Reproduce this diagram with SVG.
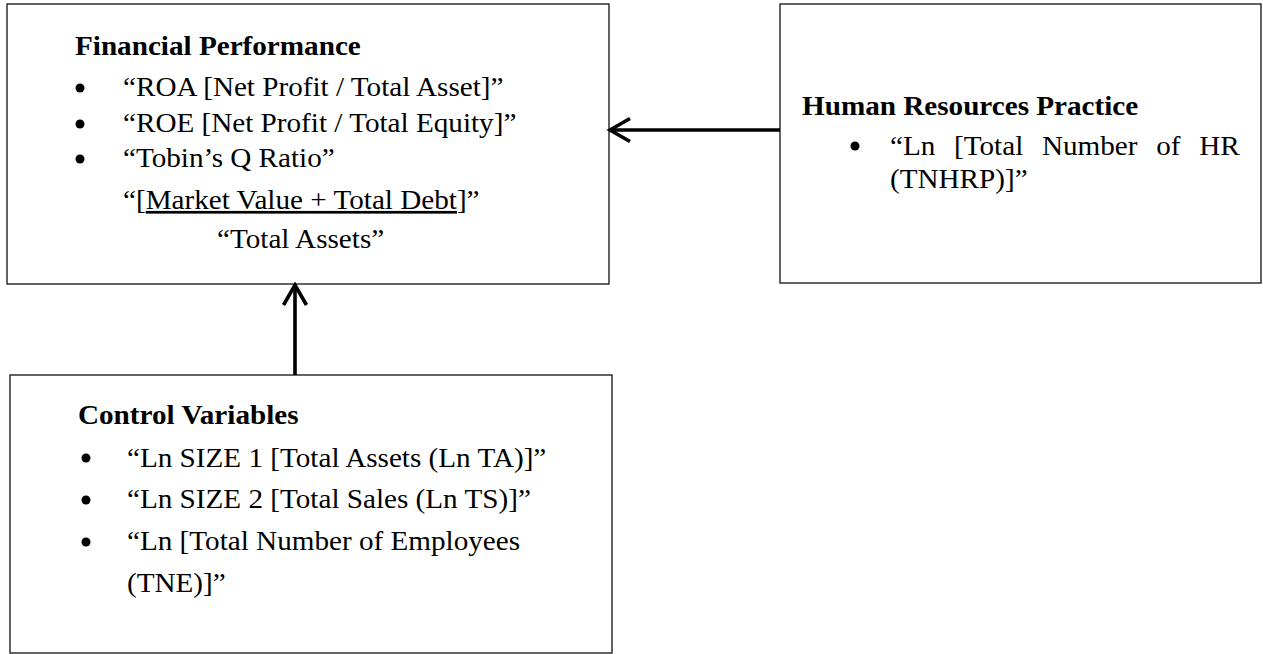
<svg xmlns="http://www.w3.org/2000/svg" width="1263" height="654" viewBox="0 0 1263 654">
  <style>
    .box { fill: #ffffff; stroke: #222222; stroke-width: 1.4; }
    .txt { font-family: "Liberation Serif", "Times New Roman", serif; font-size: 27px; fill: #000000; }
    .ttl { font-weight: bold; }
    .bul { fill: #000000; }
    .conn { fill: none; stroke: #000000; stroke-width: 3.6; }
  </style>
  <defs>
    <marker id="chev" markerUnits="userSpaceOnUse" viewBox="0 0 26 28" markerWidth="26" markerHeight="28" refX="20" refY="14" orient="auto">
      <path d="M2,2.5 L22,14 L2,25.5" fill="none" stroke="#000000" stroke-width="3.6"/>
    </marker>
  </defs>
  <rect width="1263" height="654" fill="#ffffff"/>

  <g id="financial-performance">
    <rect class="box" x="7" y="4" width="602" height="280"/>
    <g transform="scale(1.08 1)">
      <text class="txt ttl" x="69.44" y="55">Financial Performance</text>
      <text class="txt" x="113.89" y="96">“ROA [Net Profit / Total Asset]”</text>
      <text class="txt" x="113.89" y="132">“ROE [Net Profit / Total Equity]”</text>
      <text class="txt" x="113.89" y="167">“Tobin’s Q Ratio”</text>
      <text class="txt" x="113.89" y="209">“[<tspan text-decoration="underline">Market Value + Total Debt</tspan>]”</text>
      <text class="txt" x="200.93" y="248">“Total Assets”</text>
    </g>
    <circle class="bul" cx="80" cy="88" r="4.5"/>
    <circle class="bul" cx="80" cy="124" r="4.5"/>
    <circle class="bul" cx="80" cy="159" r="4.5"/>
  </g>

  <g id="human-resources-practice">
    <rect class="box" x="780" y="4" width="481" height="279"/>
    <g transform="scale(1.08 1)">
      <text class="txt ttl" x="742.59" y="115">Human Resources Practice</text>
      <text class="txt" x="824.07" y="155" word-spacing="10.6">“Ln [Total Number of HR</text>
      <text class="txt" x="824.07" y="188">(TNHRP)]”</text>
    </g>
    <circle class="bul" cx="855" cy="146" r="4.5"/>
  </g>

  <g id="control-variables">
    <rect class="box" x="10" y="375" width="602" height="278"/>
    <g transform="scale(1.08 1)">
      <text class="txt ttl" x="72.22" y="424">Control Variables</text>
      <text class="txt" x="117.59" y="467">“Ln SIZE 1 [Total Assets (Ln TA)]”</text>
      <text class="txt" x="117.59" y="508">“Ln SIZE 2 [Total Sales (Ln TS)]”</text>
      <text class="txt" x="117.59" y="550">“Ln [Total Number of Employees</text>
      <text class="txt" x="117.59" y="592">(TNE)]”</text>
    </g>
    <circle class="bul" cx="86" cy="458" r="4.5"/>
    <circle class="bul" cx="86" cy="500" r="4.5"/>
    <circle class="bul" cx="86" cy="542" r="4.5"/>
  </g>

  <g id="connectors">
    <line class="conn" x1="780" y1="130" x2="612" y2="130" marker-end="url(#chev)"/>
    <line class="conn" x1="295" y1="375" x2="295" y2="287" marker-end="url(#chev)"/>
  </g>
</svg>
